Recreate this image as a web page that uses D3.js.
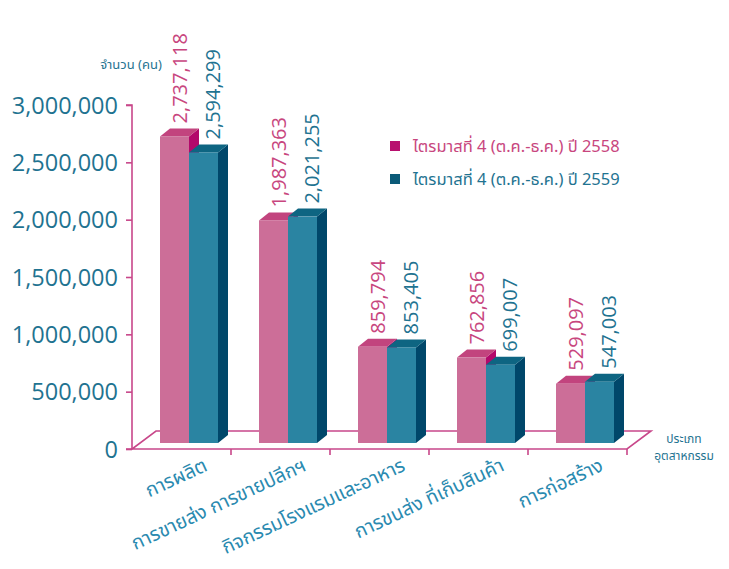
<!DOCTYPE html>
<html>
<head>
<meta charset="utf-8">
<script src="https://cdn.jsdelivr.net/npm/d3@7/dist/d3.min.js"></script>
<style>
  html, body { margin: 0; padding: 0; background: #ffffff; }
  svg { display: block; }
  .num { font-family: "Open Sans", "Noto Sans", sans-serif; }
  .thai { font-family: "Noto Sans Thai", "Noto Sans", "DejaVu Sans", sans-serif; }
</style>
</head>
<body>
<svg id="chart" width="729" height="569"></svg>
<script>
// ---------- data ----------
const categories = [
  "การผลิต",
  "การขายส่ง การขายปลีกฯ",
  "กิจกรรมโรงแรมและอาหาร",
  "การขนส่ง ที่เก็บสินค้า",
  "การก่อสร้าง"
];
const seriesNames = [
  "ไตรมาสที่ 4 (ต.ค.-ธ.ค.) ปี 2558",
  "ไตรมาสที่ 4 (ต.ค.-ธ.ค.) ปี 2559"
];
const values2558 = [2737118, 1987363, 859794, 762856, 529097];
const values2559 = [2594299, 2021255, 853405, 699007, 547003];
const yTicks = [0, 500000, 1000000, 1500000, 2000000, 2500000, 3000000];
const yTitle = "จำนวน (คน)";
const xTitle = ["ประเภท", "อุตสาหกรรม"];

// ---------- styles ----------
const pal = [
  { front: "#cc6e98", top: "#c2447e", side: "#b3096b", text: "#c8467e" },
  { front: "#2a84a2", top: "#0e6582", side: "#00476a", text: "#1f7391" }
];
const axisColor = "#c8478a";
const tealText = "#1f7391";

const svg = d3.select("#chart");

// ---------- scales ----------
const yAxisScale = d3.scaleLinear().domain([0, 3000000]).range([449, 105]);
const yBar = d3.scaleLinear().domain([0, 3000000]).range([443, 107]);
const x0 = d3.scaleBand().domain(categories).range([132, 627]);
const x1 = d3.scaleBand().domain(seriesNames).range([28, 86]);
const depth = { dx: 10, dy: -8 };
const floorDepth = { dx: 24, dy: -18 };

// ---------- floor ----------
const fl = x0.range()[0], fr = x0.range()[1], fy = yAxisScale(0);
svg.append("path")
  .attr("d", `M${fl},${fy} L${fr},${fy} L${fr + floorDepth.dx},${fy + floorDepth.dy} L${fl + floorDepth.dx},${fy + floorDepth.dy} Z`)
  .attr("fill", "none")
  .attr("stroke", axisColor)
  .attr("stroke-width", 1.6);

// category boundary ticks on front edge
categories.forEach((c, i) => {
  const x = x0(c) + x0.bandwidth();
  svg.append("line")
    .attr("x1", x).attr("x2", x)
    .attr("y1", fy).attr("y2", fy + 6)
    .attr("stroke", axisColor).attr("stroke-width", 1.6);
});

// ---------- y axis ----------
const yAxis = d3.axisLeft(yAxisScale).tickValues(yTicks).tickSize(6).tickPadding(8)
  .tickFormat(d3.format(","));
const ga = svg.append("g").attr("transform", "translate(132,0)").call(yAxis);
ga.select(".domain").attr("stroke", axisColor).attr("stroke-width", 1.6)
  .attr("d", `M-6,${yAxisScale(3000000)}H0V${yAxisScale(0)}H-6`);
ga.selectAll(".tick line").attr("stroke", axisColor).attr("stroke-width", 1.6);
ga.selectAll(".tick text")
  .attr("class", "num")
  .attr("fill", tealText)
  .attr("font-size", 23.5)
  .attr("dy", "0.35em");

svg.append("text").attr("class", "thai")
  .attr("x", 131).attr("y", 69)
  .attr("text-anchor", "middle")
  .attr("font-size", 13).attr("fill", tealText)
  .text(yTitle);

// ---------- bars ----------
const seriesValues = [values2558, values2559];
const labelShift = [5, 9];
categories.forEach((c, i) => {
  seriesNames.forEach((s, j) => {
    const v = seriesValues[j][i];
    const x = x0(c) + x1(s);
    const w = x1.bandwidth();
    const yt = yBar(v), yb = yBar(0);
    const g = svg.append("g");
    g.append("path")
      .attr("d", `M${x + w},${yt} L${x + w + depth.dx},${yt + depth.dy} L${x + w + depth.dx},${yb + depth.dy} L${x + w},${yb} Z`)
      .attr("fill", pal[j].side);
    g.append("path")
      .attr("d", `M${x},${yt} L${x + depth.dx},${yt + depth.dy} L${x + w + depth.dx},${yt + depth.dy} L${x + w},${yt} Z`)
      .attr("fill", pal[j].top);
    g.append("rect")
      .attr("x", x).attr("y", yt).attr("width", w).attr("height", yb - yt)
      .attr("fill", pal[j].front);
  });
});

// value labels
categories.forEach((c, i) => {
  seriesNames.forEach((s, j) => {
    const v = seriesValues[j][i];
    const cx = x0(c) + x1(s) + x1.bandwidth() / 2 + labelShift[j];
    const y = yBar(v) + depth.dy - 5;
    svg.append("text").attr("class", "num")
      .attr("transform", `translate(${cx},${y}) rotate(-90)`)
      .attr("dy", "0.36em")
      .attr("font-size", 20)
      .attr("fill", pal[j].text)
      .text(d3.format(",")(v));
  });
});

// ---------- category labels ----------
categories.forEach((c) => {
  const cx = x0(c) + x0.bandwidth() / 2 + 27;
  svg.append("text").attr("class", "thai")
    .attr("transform", `translate(${cx},${fy + 21}) rotate(-25)`)
    .attr("text-anchor", "end")
    .attr("font-size", 19.5)
    .attr("fill", "#2a8ab0")
    .text(c);
});

// x title
xTitle.forEach((t, k) => {
  svg.append("text").attr("class", "thai")
    .attr("x", 684).attr("y", 443 + k * 17)
    .attr("text-anchor", "middle")
    .attr("font-size", 12).attr("fill", tealText)
    .text(t);
});

// ---------- legend ----------
seriesNames.forEach((s, j) => {
  const ly = 146 + j * 33;
  svg.append("rect").attr("x", 390).attr("y", ly - 5).attr("width", 10).attr("height", 10)
    .attr("fill", j === 0 ? "#b8106e" : "#0b5a78");
  svg.append("text").attr("class", "thai")
    .attr("x", 413).attr("y", ly).attr("dy", "0.35em")
    .attr("font-size", 16.5).attr("fill", pal[j].text)
    .text(s);
});
</script>
</body>
</html>
